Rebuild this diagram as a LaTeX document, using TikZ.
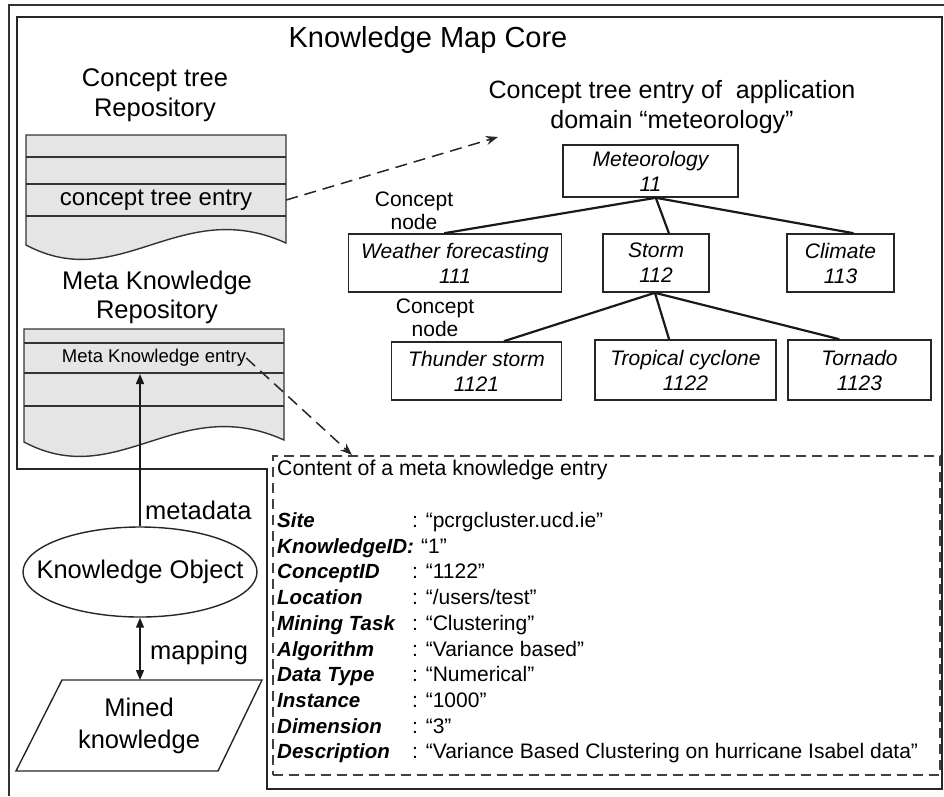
\documentclass[tikz,border=0pt]{standalone}
\usepackage{fontspec}
\setmainfont{Liberation Sans}
\usetikzlibrary{arrows.meta,shapes.geometric,calc}
\begin{document}
\begin{tikzpicture}[x=1pt,y=-1pt,
  outerframe/.style={draw=black!80, line width=2pt},
  coreframe/.style={draw=black!85, line width=2.4pt},
  repo/.style={draw=black!80, fill=black!10, line width=1.4pt},
  rowline/.style={draw=black!80, line width=1.4pt},
  conceptbox/.style={draw=black!85, line width=1.6pt, align=center, inner sep=0pt,
    font=\fontsize{21}{25}\selectfont\itshape},
  treeedge/.style={draw=black!90, line width=2.2pt},
  reflink/.style={draw=black!85, line width=1.5pt, dash pattern=on 12pt off 7pt,
    -{Stealth[length=12pt,width=9pt]}},
  flow/.style={draw=black!90, line width=1.5pt},
  bigtext/.style={align=center, inner sep=0pt, font=\fontsize{25.5}{30}\selectfont},
  labeltext/.style={align=center, inner sep=0pt, font=\fontsize{21}{23}\selectfont},
  fieldname/.style={anchor=base west, inner sep=0pt, font=\fontsize{20.5}{24}\selectfont\bfseries\itshape},
  fieldvalue/.style={anchor=base west, inner sep=0pt, font=\fontsize{21}{24}\selectfont},
]
\useasboundingbox (0,0) rectangle (944,796);

% outer frame and the L-shaped core frame
\draw[outerframe] (9,796) -- (9,5) -- (944,5);
\draw[coreframe] (17,17) -- (942,17) -- (942,789) -- (267,789) -- (267,469) -- (17,469) -- cycle;

\node[inner sep=0pt, font=\fontsize{29}{33}\selectfont] (coretitle) at (428,40) {Knowledge Map Core};

% concept tree repository
\node[bigtext] (ctrepo) at (155,95) {Concept tree\\Repository};
\path[repo] (26,135) -- (286,135) -- (286,243)
  .. controls (180,195) and (120,295) .. (26,245) -- cycle;
\draw[rowline] (26,157) -- (286,157);
\draw[rowline] (26,184) -- (286,184);
\draw[rowline] (26,216) -- (286,216);
\node[inner sep=0pt, minimum width=260pt, minimum height=32pt,
  font=\fontsize{24}{28}\selectfont] (ctentry) at (156,200) {concept tree entry};

% meta knowledge repository
\node[bigtext, font=\fontsize{25.5}{29}\selectfont] (mkrepo) at (157,297) {Meta Knowledge\\Repository};
\path[repo] (24,329) -- (284,329) -- (284,440)
  .. controls (178,392) and (118,492) .. (24,442) -- cycle;
\draw[rowline] (24,343) -- (284,343);
\draw[rowline] (24,373) -- (284,373);
\draw[rowline] (24,406) -- (284,406);
\node[inner sep=0pt, font=\fontsize{18.5}{22}\selectfont] (mkentry) at (154,358) {Meta Knowledge entry};

% concept tree of the meteorology domain
\node[bigtext, font=\fontsize{25}{30}\selectfont] (treetitle) at (672,107)
  {Concept tree entry of~ application\\domain “meteorology”};
\coordinate (treetip) at (498,137);

\node[conceptbox, minimum width=175pt, minimum height=52pt] (meteo) at (650.5,171) {Meteorology\\11};
\node[conceptbox, minimum width=213pt, minimum height=58pt] (weather) at (455,263) {Weather forecasting\\111};
\node[conceptbox, minimum width=106pt, minimum height=58pt] (storm) at (656,263) {Storm\\112};
\node[conceptbox, minimum width=107pt, minimum height=58pt] (climate) at (840.5,263) {Climate\\113};
\node[conceptbox, minimum width=170pt, minimum height=58pt] (thunder) at (476.5,371) {Thunder storm\\1121};
\node[conceptbox, minimum width=181pt, minimum height=60pt] (tropical) at (685.5,370) {Tropical cyclone\\1122};
\node[conceptbox, minimum width=143pt, minimum height=60pt] (tornado) at (859.5,370) {Tornado\\1123};

\node[labeltext] (cnode1) at (414,211) {Concept\\node};
\node[labeltext] (cnode2) at (435,318) {Concept\\node};

\coordinate (meteobot) at ($(meteo.south west)!0.53!(meteo.south east)$);
\coordinate (stormbot) at ($(storm.south west)!0.49!(storm.south east)$);
\draw[treeedge] (meteobot) -- ($(weather.north west)!0.45!(weather.north east)$);
\draw[treeedge] (meteobot) -- ($(storm.north west)!0.62!(storm.north east)$);
\draw[treeedge] (meteobot) -- ($(climate.north west)!0.62!(climate.north east)$);
\draw[treeedge] (stormbot) -- ($(thunder.north west)!0.66!(thunder.north east)$);
\draw[treeedge] (stormbot) -- ($(tropical.north west)!0.41!(tropical.north east)$);
\draw[treeedge] (stormbot) -- ($(tornado.north west)!0.36!(tornado.north east)$);

\draw[reflink] (ctentry.east) -- (treetip);

% content of one meta knowledge entry
\node[draw=black!75, line width=1.6pt, dash pattern=on 10pt off 6pt,
  minimum width=667pt, minimum height=319pt, anchor=north west, inner sep=0pt] (content) at (272,455) {};
\coordinate (contenttip) at (352,455);
\draw[reflink] (mkentry.east) -- (contenttip);

\node[fieldvalue, anchor=west, font=\fontsize{21.3}{24}\selectfont] (contenttitle) at (277,470)
  {Content of a meta knowledge entry};

\foreach \lab/\val [count=\i] in {
  {Site}/{: “pcrgcluster.ucd.ie”},
  {KnowledgeID:}/{\hspace*{9pt}“1”},
  {ConceptID}/{: “1122”},
  {Location}/{: “/users/test”},
  {Mining Task}/{: “Clustering”},
  {Algorithm}/{: “Variance based”},
  {Data Type}/{: “Numerical”},
  {Instance}/{: “1000”},
  {Dimension}/{: “3”},
  {Description}/{: “Variance Based Clustering on hurricane Isabel data”}} {
  \node[fieldname] (fname\i) at (277,{527.5+25.7*(\i-1)}) {\lab};
  \node[fieldvalue] (fval\i) at (412,{527.5+25.7*(\i-1)}) {\val};
}

% knowledge object and mined knowledge
\node[draw=black!85, line width=1.4pt, ellipse, minimum width=234pt, minimum height=90pt,
  inner sep=0pt] (ko) at (140,572) {};
\node[inner sep=0pt, font=\fontsize{25.5}{30}\selectfont] (kotext) at (ko.center) {Knowledge Object};
\coordinate (metatip) at (ko.north |- 0,374);
\draw[flow, -{Triangle[length=10pt,width=8pt]}] (ko.north) -- (metatip);
\node[inner sep=0pt, anchor=west, font=\fontsize{25.5}{30}\selectfont] (metalabel) at (145,510) {metadata};

\draw[draw=black!85, line width=1.4pt] (62,680) -- (262,680) -- (218,771) -- (16,771) -- cycle;
\node[bigtext, font=\fontsize{25.5}{32}\selectfont] (mined) at (139,726) {Mined\\knowledge};
\coordinate (minedtop) at (ko.south |- 0,680);
\draw[flow, {Triangle[length=10pt,width=8pt]}-{Triangle[length=10pt,width=8pt]}] (ko.south) -- (minedtop);
\node[inner sep=0pt, anchor=west, font=\fontsize{25.5}{30}\selectfont] (maplabel) at (150,653) {mapping};
\end{tikzpicture}
\end{document}
